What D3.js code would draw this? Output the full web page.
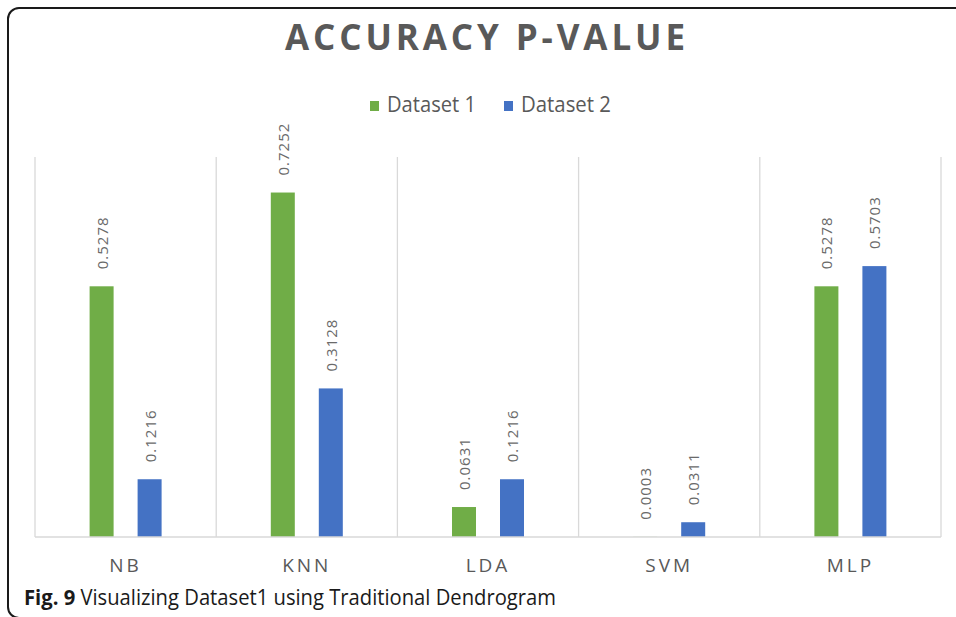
<!DOCTYPE html>
<html>
<head>
<meta charset="utf-8">
<script src="https://cdn.jsdelivr.net/npm/d3@7"></script>
<style>
  body { margin: 0; background: #fff; }
  svg { display: block; font-family: "Open Sans", sans-serif; }
</style>
</head>
<body>
<div id="chart"></div>
<script>
const categories = ["NB", "KNN", "LDA", "SVM", "MLP"];
const seriesNames = ["Dataset 1", "Dataset 2"];
const dataset1 = [0.5278, 0.7252, 0.0631, 0.0003, 0.5278];
const dataset2 = [0.1216, 0.3128, 0.1216, 0.0311, 0.5703];
const colors = ["#70ad47", "#4472c4"];

const width = 956;
const height = 617;
const plotLeft = 35;
const plotRight = 941;
const plotTop = 157;
const plotBottom = 537;

var svg = d3
  .select("#chart")
  .append("svg")
  .attr("width", width)
  .attr("height", height);

// frame round the figure
svg
  .append("rect")
  .attr("x", 8)
  .attr("y", 8)
  .attr("width", 1000)
  .attr("height", 610)
  .attr("rx", 11)
  .attr("fill", "none")
  .attr("stroke", "#1a1a1a")
  .attr("stroke-width", 2);

var x0 = d3.scaleBand().domain(categories).range([plotLeft, plotRight]);
const bw = x0.bandwidth();
var x1 = d3
  .scaleBand()
  .domain(seriesNames)
  .range([bw / 2 - 36, bw / 2 + 36])
  .paddingInner(0.5);
var y = d3.scaleLinear().domain([0, 0.8]).range([plotBottom, plotTop]);

// vertical grid lines at category edges
const edges = categories.map((c) => x0(c)).concat([plotRight]);
svg
  .selectAll("line.grid")
  .data(edges)
  .enter()
  .append("line")
  .attr("class", "grid")
  .attr("x1", (d) => d)
  .attr("x2", (d) => d)
  .attr("y1", plotTop)
  .attr("y2", plotBottom)
  .attr("stroke", "#d9d9d9")
  .attr("stroke-width", 1.3);

// bars
const rows = categories.map((c, i) => ({
  cat: c,
  values: [
    { name: seriesNames[0], value: dataset1[i] },
    { name: seriesNames[1], value: dataset2[i] },
  ],
}));

var groups = svg
  .selectAll("g.cat")
  .data(rows)
  .enter()
  .append("g")
  .attr("class", "cat")
  .attr("transform", (d) => `translate(${x0(d.cat)},0)`);

groups
  .selectAll("rect")
  .data((d) => d.values)
  .enter()
  .append("rect")
  .attr("x", (d) => x1(d.name))
  .attr("y", (d) => y(d.value))
  .attr("width", x1.bandwidth())
  .attr("height", (d) => plotBottom - y(d.value))
  .attr("fill", (d, i) => colors[i]);

// rotated value labels
groups
  .selectAll("text")
  .data((d) => d.values)
  .enter()
  .append("text")
  .attr(
    "transform",
    (d) =>
      `translate(${x1(d.name) + x1.bandwidth() / 2},${y(d.value) - 17}) rotate(-90)`
  )
  .attr("dominant-baseline", "central")
  .attr("font-size", 15)
  .attr("letter-spacing", 1)
  .attr("fill", "#6a6a6a")
  .text((d) => d.value.toFixed(4));

// x axis line
svg
  .append("line")
  .attr("x1", plotLeft)
  .attr("x2", plotRight)
  .attr("y1", plotBottom)
  .attr("y2", plotBottom)
  .attr("stroke", "#d9d9d9")
  .attr("stroke-width", 1.5);

// category labels
svg
  .selectAll("text.cat")
  .data(categories)
  .enter()
  .append("text")
  .attr("class", "cat")
  .attr("x", (d) => x0(d) + bw / 2)
  .attr("y", 572)
  .attr("text-anchor", "middle")
  .attr("font-size", 19)
  .attr("letter-spacing", 3)
  .attr("fill", "#595959")
  .text((d) => d);

// title
svg
  .append("text")
  .attr("x", 285)
  .attr("y", 50)
  .attr("font-size", 35)
  .attr("font-weight", "bold")
  .attr("fill", "#595959")
  .attr("textLength", 400)
  .attr("lengthAdjust", "spacing")
  .text("ACCURACY P-VALUE");

// legend
const legendX = [370, 504];
const legendW = [89, 90];
var legend = svg
  .selectAll("g.legend")
  .data(seriesNames)
  .enter()
  .append("g")
  .attr("class", "legend")
  .attr("transform", (d, i) => `translate(${legendX[i]},0)`);

legend
  .append("rect")
  .attr("x", 0)
  .attr("y", 101)
  .attr("width", 9)
  .attr("height", 10)
  .attr("fill", (d, i) => colors[i]);

legend
  .append("text")
  .attr("x", 17)
  .attr("y", 112)
  .attr("font-size", 21)
  .attr("fill", "#595959")
  .attr("textLength", (d, i) => legendW[i])
  .attr("lengthAdjust", "spacingAndGlyphs")
  .text((d) => d);

// caption
const caption = svg
  .append("text")
  .attr("x", 24)
  .attr("y", 605)
  .attr("font-size", 21)
  .attr("fill", "#1a1a1a")
  .attr("textLength", 532)
  .attr("lengthAdjust", "spacingAndGlyphs");
caption.append("tspan").attr("font-weight", "bold").text("Fig. 9");
caption.append("tspan").text(" Visualizing Dataset1 using Traditional Dendrogram");
</script>
</body>
</html>
